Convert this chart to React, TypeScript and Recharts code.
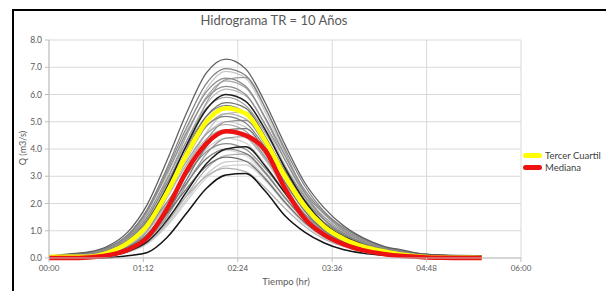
import React from 'react';
import { LineChart, Line, XAxis, YAxis, CartesianGrid } from 'recharts';

// time in hours, every 15 min
const TIME = [0, 0.25, 0.5, 0.75, 1, 1.25, 1.5, 1.75, 2, 2.25, 2.5, 2.75, 3, 3.25, 3.5, 3.75, 4, 4.25, 4.5, 4.75, 5, 5.25, 5.5];
const X_TICKS = [0, 1.2, 2.4, 3.6, 4.8, 6];
const Y_TICKS = [0, 1, 2, 3, 4, 5, 6, 7, 8];

const tercerCuartil = [0.05, 0.05, 0.05, 0.2, 0.55, 1.2, 2.4, 3.8, 5.0, 5.5, 5.3, 4.3, 3.0, 1.9, 1.15, 0.7, 0.42, 0.25, 0.12, 0.05, 0.02, 0.01, 0];
const mediana = [0, 0, 0.02, 0.1, 0.3, 0.75, 1.8, 3.2, 4.2, 4.65, 4.5, 3.95, 2.55, 1.45, 0.85, 0.5, 0.28, 0.15, 0.07, 0.03, 0.01, 0, 0];

const q01 = [0.07, 0.15, 0.22, 0.44, 0.95, 1.97, 3.58, 5.33, 6.79, 7.3, 6.94, 5.69, 4.16, 2.77, 1.83, 1.17, 0.73, 0.44, 0.29, 0.15, 0.11, 0.07, 0.07];
const q02 = [0.05, 0.1, 0.2, 0.4, 0.85, 1.8, 3.3, 5.0, 6.4, 6.95, 6.7, 5.5, 4.0, 2.65, 1.7, 1.1, 0.7, 0.42, 0.25, 0.15, 0.1, 0.08, 0.06];
const q03 = [0.06, 0.07, 0.08, 0.28, 0.7, 1.5, 3.0, 4.7, 6.2, 6.85, 6.6, 5.35, 3.8, 2.4, 1.45, 0.9, 0.55, 0.32, 0.15, 0.08, 0.04, 0.02, 0.01];
const q04 = [0.04, 0.1, 0.18, 0.38, 0.85, 1.75, 3.2, 4.8, 6.1, 6.6, 6.3, 5.15, 3.75, 2.5, 1.65, 1.05, 0.66, 0.4, 0.26, 0.14, 0.1, 0.08, 0.06];
const q05 = [0.05, 0.05, 0.06, 0.26, 0.65, 1.43, 2.86, 4.5, 5.9, 6.5, 6.25, 5.1, 3.6, 2.3, 1.4, 0.85, 0.52, 0.3, 0.15, 0.08, 0.05, 0.04, 0.03];
const q06 = [0.03, 0.08, 0.15, 0.35, 0.8, 1.7, 3.1, 4.6, 5.85, 6.3, 6.0, 4.9, 3.6, 2.4, 1.6, 1.0, 0.62, 0.38, 0.24, 0.13, 0.1, 0.09, 0.08];
const q07 = [0.02, 0.03, 0.05, 0.22, 0.6, 1.35, 2.7, 4.3, 5.65, 6.2, 5.95, 4.85, 3.4, 2.2, 1.3, 0.8, 0.5, 0.28, 0.13, 0.06, 0.03, 0.02, 0.02];
const q08 = [0.03, 0.03, 0.04, 0.2, 0.55, 1.3, 2.6, 4.15, 5.45, 6.0, 5.75, 4.7, 3.3, 2.1, 1.25, 0.78, 0.48, 0.27, 0.12, 0.06, 0.03, 0.01, 0];
const q09 = [0.05, 0.1, 0.18, 0.36, 0.77, 1.6, 2.9, 4.3, 5.5, 5.9, 5.6, 4.6, 3.35, 2.25, 1.5, 0.95, 0.6, 0.36, 0.23, 0.12, 0.09, 0.08, 0.07];
const q10 = [0.03, 0.03, 0.05, 0.23, 0.57, 1.25, 2.5, 3.95, 5.2, 5.7, 5.5, 4.45, 3.15, 2.0, 1.2, 0.75, 0.46, 0.26, 0.12, 0.06, 0.03, 0.02, 0.01];
const q11 = [0, 0, 0.01, 0.12, 0.35, 0.85, 1.9, 3.3, 4.6, 5.3, 5.35, 4.45, 3.15, 1.95, 1.15, 0.68, 0.4, 0.23, 0.12, 0.06, 0.03, 0.02, 0.02];
const q12 = [0.02, 0.02, 0.04, 0.2, 0.52, 1.15, 2.3, 3.65, 4.82, 5.3, 5.1, 4.15, 2.9, 1.85, 1.12, 0.7, 0.43, 0.25, 0.11, 0.06, 0.04, 0.03, 0.03];
const q13 = [0.04, 0.08, 0.14, 0.3, 0.66, 1.4, 2.55, 3.8, 4.85, 5.2, 4.95, 4.05, 2.95, 1.98, 1.3, 0.85, 0.53, 0.33, 0.21, 0.12, 0.1, 0.1, 0.09];
const q14 = [0, 0, 0, 0.1, 0.3, 0.77, 1.73, 3.06, 4.33, 5.0, 5.05, 4.18, 2.96, 1.84, 1.07, 0.62, 0.36, 0.2, 0.1, 0.05, 0.02, 0.01, 0];
const q15 = [0.01, 0.02, 0.03, 0.19, 0.5, 1.1, 2.2, 3.45, 4.55, 5.0, 4.8, 3.9, 2.75, 1.75, 1.05, 0.65, 0.4, 0.23, 0.11, 0.06, 0.04, 0.03, 0.02];
const q16 = [0.03, 0.06, 0.12, 0.28, 0.62, 1.3, 2.4, 3.55, 4.55, 4.9, 4.65, 3.8, 2.78, 1.85, 1.22, 0.78, 0.5, 0.3, 0.2, 0.12, 0.1, 0.09, 0.08];
const q17 = [0, 0, 0, 0.09, 0.28, 0.72, 1.62, 2.88, 4.08, 4.7, 4.75, 3.93, 2.78, 1.72, 1.0, 0.58, 0.34, 0.19, 0.1, 0.05, 0.02, 0.01, 0];
const q18 = [0.02, 0.02, 0.03, 0.17, 0.45, 1.0, 2.0, 3.17, 4.18, 4.6, 4.42, 3.6, 2.53, 1.6, 0.97, 0.6, 0.37, 0.21, 0.1, 0.05, 0.03, 0.02, 0.02];
const q19 = [0, 0, 0, 0.08, 0.26, 0.67, 1.52, 2.7, 3.82, 4.4, 4.45, 3.7, 2.6, 1.62, 0.95, 0.55, 0.32, 0.18, 0.09, 0.05, 0.03, 0.02, 0.02];
const q20 = [0.01, 0.01, 0.02, 0.16, 0.43, 0.95, 1.92, 3.04, 4.0, 4.4, 4.22, 3.43, 2.42, 1.54, 0.93, 0.58, 0.36, 0.2, 0.1, 0.05, 0.03, 0.02, 0.01];
const q21 = [0.02, 0.05, 0.1, 0.24, 0.54, 1.12, 2.05, 3.06, 3.9, 4.2, 3.99, 3.28, 2.4, 1.6, 1.05, 0.68, 0.43, 0.26, 0.17, 0.1, 0.08, 0.07, 0.06];
const q22 = [0, 0, 0, 0.07, 0.24, 0.6, 1.38, 2.44, 3.46, 4.0, 4.08, 3.37, 2.38, 1.48, 0.86, 0.5, 0.29, 0.16, 0.08, 0.04, 0.02, 0.01, 0];
const q23 = [0.01, 0.01, 0.02, 0.15, 0.4, 0.88, 1.76, 2.76, 3.64, 4.0, 3.84, 3.12, 2.2, 1.4, 0.85, 0.52, 0.32, 0.18, 0.09, 0.04, 0.02, 0.01, 0.01];
const q24 = [0, 0, 0, 0.07, 0.23, 0.58, 1.3, 2.3, 3.27, 3.77, 3.81, 3.16, 2.23, 1.39, 0.81, 0.46, 0.27, 0.15, 0.08, 0.04, 0.02, 0.01, 0];
const q25 = [0.02, 0.02, 0.03, 0.15, 0.37, 0.82, 1.63, 2.55, 3.37, 3.7, 3.55, 2.9, 2.04, 1.3, 0.78, 0.48, 0.3, 0.17, 0.08, 0.04, 0.02, 0.02, 0.02];
const q26 = [0, 0, 0, 0.06, 0.22, 0.54, 1.22, 2.16, 3.06, 3.53, 3.56, 2.95, 2.09, 1.3, 0.76, 0.43, 0.25, 0.14, 0.07, 0.04, 0.02, 0.01, 0];
const q27 = [0, 0, 0, 0.05, 0.2, 0.52, 1.17, 2.07, 2.93, 3.38, 3.42, 2.83, 2.0, 1.24, 0.72, 0.41, 0.24, 0.14, 0.07, 0.03, 0.01, 0, 0];
const q28 = [0.01, 0.01, 0.02, 0.13, 0.33, 0.73, 1.45, 2.28, 3.0, 3.3, 3.17, 2.57, 1.82, 1.16, 0.69, 0.43, 0.26, 0.15, 0.07, 0.03, 0.02, 0.01, 0.01];
const q29 = [0, 0, 0, 0.01, 0.08, 0.2, 0.75, 1.65, 2.55, 3.05, 3.1, 2.45, 1.55, 0.95, 0.55, 0.3, 0.17, 0.1, 0.05, 0.02, 0.01, 0, 0];
const q30 = [0.04, 0.08, 0.15, 0.33, 0.73, 1.5, 2.75, 4.1, 5.2, 5.6, 5.32, 4.37, 3.2, 2.13, 1.4, 0.9, 0.56, 0.34, 0.22, 0.12, 0.09, 0.08, 0.07];
const q31 = [0.03, 0.06, 0.12, 0.27, 0.6, 1.25, 2.3, 3.42, 4.37, 4.7, 4.46, 3.66, 2.68, 1.78, 1.18, 0.75, 0.47, 0.28, 0.19, 0.11, 0.09, 0.08, 0.07];
const q32 = [0, 0, 0.01, 0.14, 0.4, 1.0, 2.28, 4.0, 5.7, 6.55, 6.63, 5.5, 3.9, 2.42, 1.42, 0.82, 0.48, 0.28, 0.14, 0.07, 0.03, 0.02, 0.01];
const q33 = [0.02, 0.04, 0.08, 0.22, 0.5, 1.05, 1.93, 2.88, 3.67, 3.95, 3.75, 3.08, 2.25, 1.5, 0.99, 0.63, 0.4, 0.24, 0.16, 0.09, 0.07, 0.06, 0.05];

// simulated hydrographs, drawn light first then darker
const simulaciones: { key: string; values: number[]; color: string; width: number }[] = [
  { key: 'q33', values: q33, color: '#d6d6d6', width: 1.2 },
  { key: 'q27', values: q27, color: '#d2d2d2', width: 1.2 },
  { key: 'q20', values: q20, color: '#cfcfcf', width: 1.2 },
  { key: 'q26', values: q26, color: '#c8c8c8', width: 1.2 },
  { key: 'q03', values: q03, color: '#c6c6c6', width: 1.2 },
  { key: 'q15', values: q15, color: '#c2c2c2', width: 1.2 },
  { key: 'q11', values: q11, color: '#bcbcbc', width: 1.2 },
  { key: 'q07', values: q07, color: '#b8b8b8', width: 1.2 },
  { key: 'q18', values: q18, color: '#b4b4b4', width: 1.2 },
  { key: 'q31', values: q31, color: '#b0b0b0', width: 1.2 },
  { key: 'q24', values: q24, color: '#acacac', width: 1.2 },
  { key: 'q12', values: q12, color: '#a8a8a8', width: 1.2 },
  { key: 'q05', values: q05, color: '#a4a4a4', width: 1.2 },
  { key: 'q28', values: q28, color: '#b0b0b0', width: 1.2 },
  { key: 'q16', values: q16, color: '#a0a0a0', width: 1.2 },
  { key: 'q32', values: q32, color: '#9c9c9c', width: 1.2 },
  { key: 'q19', values: q19, color: '#989898', width: 1.2 },
  { key: 'q09', values: q09, color: '#949494', width: 1.2 },
  { key: 'q14', values: q14, color: '#909090', width: 1.2 },
  { key: 'q21', values: q21, color: '#8c8c8c', width: 1.2 },
  { key: 'q04', values: q04, color: '#8a8a8a', width: 1.2 },
  { key: 'q30', values: q30, color: '#868686', width: 1.2 },
  { key: 'q13', values: q13, color: '#7e7e7e', width: 1.2 },
  { key: 'q23', values: q23, color: '#7a7a7a', width: 1.2 },
  { key: 'q17', values: q17, color: '#767676', width: 1.2 },
  { key: 'q10', values: q10, color: '#707070', width: 1.2 },
  { key: 'q06', values: q06, color: '#8e8e8e', width: 1.2 },
  { key: 'q25', values: q25, color: '#6c6c6c', width: 1.2 },
  { key: 'q02', values: q02, color: '#808080', width: 1.2 },
  { key: 'q01', values: q01, color: '#606060', width: 1.3 },
  { key: 'q08', values: q08, color: '#1e1e1e', width: 1.5 },
  { key: 'q22', values: q22, color: '#1e1e1e', width: 1.5 },
  { key: 'q29', values: q29, color: '#141414', width: 1.5 },
];

const data = TIME.map((t, i) => {
  const row: Record<string, number> = { t, tercerCuartil: tercerCuartil[i], mediana: mediana[i] };
  simulaciones.forEach((s) => {
    row[s.key] = s.values[i];
  });
  return row;
});

const formatHora = (v: number) => {
  const h = Math.floor(v + 1e-9);
  const m = Math.round((v - h) * 60);
  return `${String(h).padStart(2, '0')}:${String(m).padStart(2, '0')}`;
};

const FONT = 'Lato, "Open Sans", sans-serif';
const YELLOW = '#ffff00';
const RED = '#ee1111';

export default function App() {
  return (
    <div style={{ position: 'absolute', left: 0, top: 0, width: 606, height: 291, background: '#fff', overflow: 'hidden', fontFamily: FONT }}>
      <div style={{ position: 'absolute', left: 12, top: 9, width: 620, height: 320, border: '2px solid #000', boxSizing: 'border-box' }} />
      <div style={{ position: 'absolute', left: 174, width: 200, top: 12, textAlign: 'center', fontSize: 13, color: '#595959', whiteSpace: 'nowrap' }}>
        Hidrograma TR = 10 Años
      </div>
      <LineChart width={606} height={291} data={data} margin={{ top: 40, right: 85, bottom: 13, left: 13 }}>
        <CartesianGrid stroke="#d9d9d9" />
        <XAxis
          dataKey="t"
          type="number"
          domain={[0, 6]}
          ticks={X_TICKS}
          tickFormatter={formatHora}
          height={20}
          tickSize={4}
          tickMargin={3}
          stroke="#bfbfbf"
          tick={{ fontSize: 8, fill: '#595959', fontFamily: FONT }}
        />
        <YAxis
          type="number"
          domain={[0, 8]}
          ticks={Y_TICKS}
          tickFormatter={(v: number) => v.toFixed(1)}
          width={36}
          tickSize={4}
          tickMargin={3}
          stroke="#bfbfbf"
          tick={{ fontSize: 8.5, fill: '#595959', fontFamily: FONT }}
        />
        {simulaciones.map((s) => (
          <Line
            key={s.key}
            type="monotone"
            dataKey={s.key}
            stroke={s.color}
            strokeWidth={s.width}
            dot={false}
            isAnimationActive={false}
          />
        ))}
        <Line type="monotone" dataKey="tercerCuartil" stroke={YELLOW} strokeWidth={4.5} dot={false} isAnimationActive={false} />
        <Line type="monotone" dataKey="mediana" stroke={RED} strokeWidth={4.5} dot={false} isAnimationActive={false} />
      </LineChart>
      <div style={{ position: 'absolute', left: 236, width: 100, top: 276, textAlign: 'center', fontSize: 9.5, color: '#595959' }}>
        Tiempo (hr)
      </div>
      <div
        style={{
          position: 'absolute',
          left: 22,
          top: 148,
          fontSize: 9,
          color: '#595959',
          transform: 'translate(-50%, -50%) rotate(-90deg)',
          whiteSpace: 'nowrap',
        }}
      >
        Q (m3/s)
      </div>
      <div style={{ position: 'absolute', left: 523, top: 150, width: 83, fontSize: 9.5, color: '#404040', lineHeight: '11.5px', whiteSpace: 'nowrap' }}>
        <div style={{ display: 'flex', alignItems: 'center' }}>
          <span style={{ display: 'inline-block', flex: 'none', width: 19, height: 5, borderRadius: 2.5, background: YELLOW, marginRight: 3 }} />
          Tercer Cuartil
        </div>
        <div style={{ display: 'flex', alignItems: 'center' }}>
          <span style={{ display: 'inline-block', flex: 'none', width: 19, height: 5, borderRadius: 2.5, background: RED, marginRight: 3 }} />
          Mediana
        </div>
      </div>
    </div>
  );
}
